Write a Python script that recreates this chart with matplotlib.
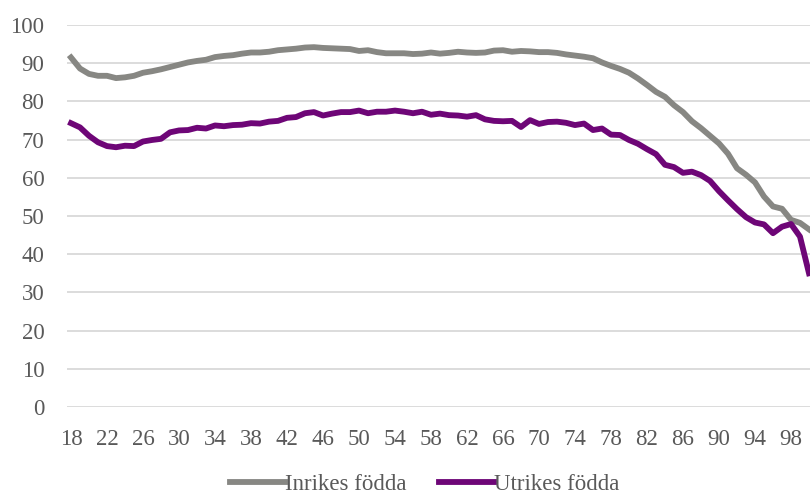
import matplotlib
matplotlib.use("Agg")
import matplotlib.pyplot as plt
import numpy as np

ages = list(range(18, 101))
inrikes = [91.5, 88.6, 87.2, 86.7, 86.7, 86.1, 86.3, 86.7, 87.5, 87.9,
           88.4, 89.0, 89.6, 90.2, 90.6, 90.9, 91.6, 91.9, 92.1, 92.5,
           92.8, 92.8, 93.0, 93.4, 93.6, 93.8, 94.1, 94.2, 94.0, 93.9,
           93.8, 93.7, 93.2, 93.4, 92.9, 92.6, 92.6, 92.6, 92.4, 92.5,
           92.8, 92.5, 92.7, 93.0, 92.8, 92.7, 92.8, 93.3, 93.4, 93.0,
           93.2, 93.1, 92.9, 92.9, 92.7, 92.3, 92.0, 91.7, 91.3, 90.2,
           89.3, 88.5, 87.5, 86.0, 84.3, 82.5, 81.2, 79.0, 77.2, 74.8,
           73.0, 71.0, 69.0, 66.3, 62.5, 60.8, 58.8, 55.1, 52.5, 51.9,
           49.0, 48.2, 46.5]
utrikes = [74.3, 73.2, 71.0, 69.3, 68.3, 68.0, 68.4, 68.3, 69.5, 69.9,
           70.2, 71.9, 72.4, 72.5, 73.1, 72.9, 73.7, 73.5, 73.8, 73.9,
           74.3, 74.2, 74.7, 74.9, 75.7, 75.9, 76.9, 77.2, 76.3, 76.8,
           77.2, 77.2, 77.6, 76.9, 77.3, 77.3, 77.6, 77.3, 76.9, 77.3,
           76.5, 76.8, 76.4, 76.3, 76.0, 76.4, 75.3, 74.9, 74.8, 74.9,
           73.3, 75.1, 74.1, 74.6, 74.7, 74.4, 73.8, 74.2, 72.5, 72.9,
           71.3, 71.2, 69.9, 68.9, 67.5, 66.2, 63.4, 62.8, 61.3, 61.6,
           60.7, 59.2, 56.5, 54.1, 51.8, 49.7, 48.3, 47.8, 45.5, 47.2,
           47.9, 44.6, 35.0]
labels = ["Inrikes födda", "Utrikes födda"]
yticks = list(range(0, 101, 10))
xticks = list(range(18, 99, 4))

gray = "#878783"
purple = "#6e0677"
textc = "#595959"
font = "Liberation Serif"
fs = 16.5

fig = plt.figure(figsize=(8.1, 4.98), dpi=100)
ax = fig.add_axes([66.5 / 810, 91 / 498, 747 / 810, 382 / 498])

ax.plot(ages, inrikes, color=gray, lw=4.2, label=labels[0], solid_joinstyle="round")
ax.plot(ages, utrikes, color=purple, lw=4.2, label=labels[1], solid_joinstyle="round")

ax.set_xlim(17.5, 100.5)
ax.set_ylim(0, 100)
ax.set_yticks(yticks)
ax.set_xticks(xticks)
ax.grid(axis="y", color="#d9d9d9", lw=1.3)
ax.set_axisbelow(True)
for s in ax.spines.values():
    s.set_visible(False)
ax.tick_params(axis="both", length=0, labelcolor=textc, labelsize=fs)
ax.tick_params(axis="y", pad=16)
ax.tick_params(axis="x", pad=16)
for lab in ax.get_xticklabels() + ax.get_yticklabels():
    lab.set_fontfamily(font)

leg = fig.legend(loc="lower center", bbox_to_anchor=(424.5 / 810, -0.036), ncol=2,
                 frameon=False, handlelength=2.4, handletextpad=0.0, columnspacing=1.4,
                 prop={"family": font, "size": fs})
for t in leg.get_texts():
    t.set_color(textc)

fig.savefig("out.png", dpi=100)
